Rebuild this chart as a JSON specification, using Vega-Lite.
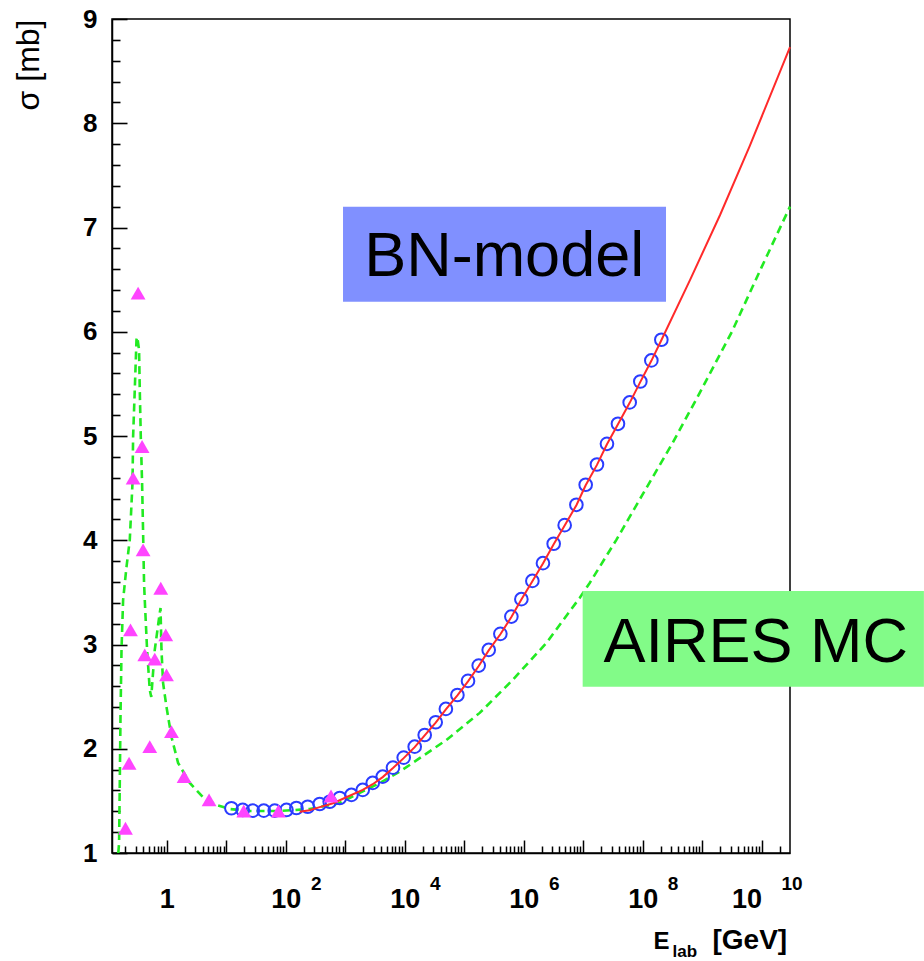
{
  "$schema": "https://vega.github.io/schema/vega-lite/v6.json",
  "width": 678,
  "height": 834,
  "autosize": {"type": "none"},
  "padding": {"left": 112, "top": 19, "right": 134, "bottom": 108},
  "config": {
    "font": "Liberation Sans",
    "view": {"stroke": "black", "strokeWidth": 1.5},
    "axis": {"grid": false, "domainColor": "black", "tickColor": "black", "labelColor": "black", "titleColor": "black", "labelFont": "Liberation Sans", "titleFont": "Liberation Sans"}
  },
  "datasets": {
    "circles": [
      {"E": 12.2, "sigma": 1.429}, {"E": 18.9, "sigma": 1.413}, {"E": 27.9, "sigma": 1.406}, {"E": 42.7, "sigma": 1.406},
      {"E": 65.3, "sigma": 1.406}, {"E": 102.8, "sigma": 1.413}, {"E": 151, "sigma": 1.432}, {"E": 234, "sigma": 1.444},
      {"E": 372, "sigma": 1.47}, {"E": 548, "sigma": 1.492}, {"E": 809, "sigma": 1.528}, {"E": 1271, "sigma": 1.557},
      {"E": 1968, "sigma": 1.605}, {"E": 2897, "sigma": 1.672}, {"E": 4266, "sigma": 1.732}, {"E": 6353, "sigma": 1.819},
      {"E": 9616, "sigma": 1.915}, {"E": 14720, "sigma": 2.02}, {"E": 21680, "sigma": 2.132}, {"E": 33190, "sigma": 2.254},
      {"E": 49200, "sigma": 2.382}, {"E": 76910, "sigma": 2.516}, {"E": 115900, "sigma": 2.651}, {"E": 175400, "sigma": 2.798},
      {"E": 258200, "sigma": 2.948}, {"E": 405500, "sigma": 3.102}, {"E": 620900, "sigma": 3.268}, {"E": 914100, "sigma": 3.435},
      {"E": 1.4e6, "sigma": 3.61}, {"E": 2.109e6, "sigma": 3.78}, {"E": 3.192e6, "sigma": 3.966}, {"E": 4.887e6, "sigma": 4.145},
      {"E": 7.691e6, "sigma": 4.34}, {"E": 1.102e7, "sigma": 4.532}, {"E": 1.706e7, "sigma": 4.727}, {"E": 2.512e7, "sigma": 4.925},
      {"E": 3.846e7, "sigma": 5.117}, {"E": 6.053e7, "sigma": 5.322}, {"E": 9.141e7, "sigma": 5.523}, {"E": 1.4e8, "sigma": 5.725},
      {"E": 2.061e8, "sigma": 5.923}
    ],
    "bn": [
      {"E": 172, "sigma": 1.396}, {"E": 251, "sigma": 1.41}, {"E": 372, "sigma": 1.44}, {"E": 624, "sigma": 1.477},
      {"E": 1000, "sigma": 1.53}, {"E": 1968, "sigma": 1.605}, {"E": 2897, "sigma": 1.66}, {"E": 4266, "sigma": 1.728},
      {"E": 6353, "sigma": 1.815}, {"E": 9616, "sigma": 1.91}, {"E": 14720, "sigma": 2.015}, {"E": 21680, "sigma": 2.128},
      {"E": 33190, "sigma": 2.25}, {"E": 49200, "sigma": 2.378}, {"E": 76910, "sigma": 2.512}, {"E": 115900, "sigma": 2.647},
      {"E": 175400, "sigma": 2.794}, {"E": 258200, "sigma": 2.944}, {"E": 405500, "sigma": 3.098}, {"E": 620900, "sigma": 3.264},
      {"E": 914100, "sigma": 3.431}, {"E": 1.4e6, "sigma": 3.606}, {"E": 2.109e6, "sigma": 3.776}, {"E": 3.192e6, "sigma": 3.962},
      {"E": 4.887e6, "sigma": 4.141}, {"E": 7.691e6, "sigma": 4.336}, {"E": 1.102e7, "sigma": 4.528}, {"E": 1.706e7, "sigma": 4.723},
      {"E": 2.512e7, "sigma": 4.921}, {"E": 3.846e7, "sigma": 5.113}, {"E": 6.053e7, "sigma": 5.318}, {"E": 9.141e7, "sigma": 5.519},
      {"E": 1.4e8, "sigma": 5.721}, {"E": 2.061e8, "sigma": 5.919}, {"E": 6.3e8, "sigma": 6.5}, {"E": 2e9, "sigma": 7.12},
      {"E": 6.3e9, "sigma": 7.78}, {"E": 3e10, "sigma": 8.73}
    ],
    "aires": [
      {"E": 0.1531, "sigma": 1.0}, {"E": 0.1578, "sigma": 1.096}, {"E": 0.1622, "sigma": 1.672}, {"E": 0.1667, "sigma": 2.305},
      {"E": 0.1734, "sigma": 2.948}, {"E": 0.1845, "sigma": 3.428}, {"E": 0.2104, "sigma": 3.745}, {"E": 0.2388, "sigma": 4.004},
      {"E": 0.2655, "sigma": 4.551}, {"E": 0.2716, "sigma": 4.992}, {"E": 0.2897, "sigma": 5.443}, {"E": 0.3097, "sigma": 5.923},
      {"E": 0.3192, "sigma": 5.95}, {"E": 0.342, "sigma": 5.827}, {"E": 0.3516, "sigma": 5.443}, {"E": 0.3656, "sigma": 4.992},
      {"E": 0.3846, "sigma": 4.551}, {"E": 0.4, "sigma": 4.071}, {"E": 0.415, "sigma": 3.591}, {"E": 0.4266, "sigma": 3.428},
      {"E": 0.4667, "sigma": 2.948}, {"E": 0.5176, "sigma": 2.564}, {"E": 0.5483, "sigma": 2.497}, {"E": 0.6281, "sigma": 2.948},
      {"E": 0.7621, "sigma": 3.303}, {"E": 0.785, "sigma": 3.35}, {"E": 0.8147, "sigma": 2.948}, {"E": 0.867, "sigma": 2.631},
      {"E": 0.9886, "sigma": 2.401}, {"E": 1.2, "sigma": 2.113}, {"E": 1.549, "sigma": 1.864}, {"E": 2.438, "sigma": 1.672},
      {"E": 4.027, "sigma": 1.537}, {"E": 6.839, "sigma": 1.461}, {"E": 11.46, "sigma": 1.422}, {"E": 24.83, "sigma": 1.403},
      {"E": 79.25, "sigma": 1.403}, {"E": 252.9, "sigma": 1.422}, {"E": 809.1, "sigma": 1.48}, {"E": 3802, "sigma": 1.672},
      {"E": 8241, "sigma": 1.78}, {"E": 13610, "sigma": 1.864}, {"E": 50230, "sigma": 2.084}, {"E": 182400, "sigma": 2.344},
      {"E": 653100, "sigma": 2.66}, {"E": 2.41e6, "sigma": 3.015}, {"E": 8.73e6, "sigma": 3.447}, {"E": 1.288e7, "sigma": 3.59},
      {"E": 3.614e7, "sigma": 4.004}, {"E": 1e8, "sigma": 4.44}, {"E": 3.162e8, "sigma": 4.93}, {"E": 8.395e8, "sigma": 5.376},
      {"E": 3.162e9, "sigma": 6.0}, {"E": 1e10, "sigma": 6.62}, {"E": 3e10, "sigma": 7.2}
    ],
    "triangles": [
      {"E": 0.2023, "sigma": 1.237}, {"E": 0.2323, "sigma": 1.861}, {"E": 0.2455, "sigma": 3.14}, {"E": 0.2716, "sigma": 4.596},
      {"E": 0.3296, "sigma": 6.371}, {"E": 0.3846, "sigma": 4.899}, {"E": 0.4, "sigma": 3.908}, {"E": 0.4266, "sigma": 2.9},
      {"E": 0.5176, "sigma": 2.02}, {"E": 0.6281, "sigma": 2.859}, {"E": 0.7925, "sigma": 3.54}, {"E": 0.9616, "sigma": 3.092},
      {"E": 0.9886, "sigma": 2.708}, {"E": 1.2, "sigma": 2.164}, {"E": 1.954, "sigma": 1.732}, {"E": 5.14, "sigma": 1.509},
      {"E": 19.68, "sigma": 1.403}, {"E": 75.34, "sigma": 1.403}, {"E": 576.8, "sigma": 1.547}
    ],
    "boxes": [
      {"label": "BN-model", "E1": 918, "E2": 2.47e8, "s1": 6.288, "s2": 7.199, "Etext": 4.7e5, "stext": 6.531},
      {"label": "AIRES MC", "E1": 9.81e6, "E2": 5.35e12, "s1": 2.595, "s2": 3.513, "Etext": 7.96e9, "stext": 2.836}
    ]
  },
  "resolve": {"axis": {"x": "independent", "y": "independent"}},
  "layer": [
    {
      "data": {"name": "aires"},
      "mark": {"type": "line", "color": "#22ea22", "strokeWidth": 2.6, "strokeDash": [8, 5]},
      "encoding": {
        "x": {
          "field": "E", "type": "quantitative",
          "scale": {"type": "log", "domain": [0.12, 3e10], "nice": false},
          "axis": {
            "orient": "bottom",
            "values": [0.2,0.3,0.4,0.5,0.6,0.7,0.8,0.9,1,2,3,4,5,6,7,8,9,10,20,30,40,50,60,70,80,90,100,200,300,400,500,600,700,800,900,1000,2000,3000,4000,5000,6000,7000,8000,9000,1e4,2e4,3e4,4e4,5e4,6e4,7e4,8e4,9e4,1e5,2e5,3e5,4e5,5e5,6e5,7e5,8e5,9e5,1e6,2e6,3e6,4e6,5e6,6e6,7e6,8e6,9e6,1e7,2e7,3e7,4e7,5e7,6e7,7e7,8e7,9e7,1e8,2e8,3e8,4e8,5e8,6e8,7e8,8e8,9e8,1e9,2e9,3e9,4e9,5e9,6e9,7e9,8e9,9e9,1e10,2e10],
            "labelExpr": "abs(log(datum.value)/LN10 - round(log(datum.value)/LN10)) < 0.001 && round(log(datum.value)/LN10) % 2 == 0 ? (round(log(datum.value)/LN10) == 0 ? '1' : '10') : ''",
            "tickSize": {"condition": {"test": "abs(log(datum.value)/LN10 - round(log(datum.value)/LN10)) < 0.001", "value": -13}, "value": -7},
            "tickWidth": 1.5,
            "domainWidth": 1.5,
            "labelFontSize": 27,
            "labelFontWeight": "bold",
            "labelBaseline": "alphabetic",
            "labelAlign": {"condition": {"test": "datum.value > 5e9", "value": "right"}, "value": "center"},
            "labelPadding": 67,
            "labelOverlap": false,
            "labelFlush": false,
            "title": "E",
            "titleFontSize": 24,
            "titleFontWeight": "bold",
            "titleX": 541,
            "titleY": 95,
            "titleAlign": "left",
            "titleBaseline": "alphabetic"
          }
        },
        "y": {
          "field": "sigma", "type": "quantitative",
          "scale": {"domain": [1, 9], "nice": false, "zero": false},
          "axis": {
            "orient": "left",
            "values": [1,1.2,1.4,1.6,1.8,2,2.2,2.4,2.6,2.8,3,3.2,3.4,3.6,3.8,4,4.2,4.4,4.6,4.8,5,5.2,5.4,5.6,5.8,6,6.2,6.4,6.6,6.8,7,7.2,7.4,7.6,7.8,8,8.2,8.4,8.6,8.8,9],
            "labelExpr": "abs(datum.value - round(datum.value)) < 0.001 ? format(datum.value, 'd') : ''",
            "tickSize": {"condition": {"test": "abs(datum.value - round(datum.value)) < 0.001", "value": -15}, "value": -8},
            "tickWidth": 1.6,
            "tickColor": "#000000",
            "tickOpacity": 1,
            "domainWidth": 1.5,
            "labelFontSize": 26,
            "labelFontWeight": "bold",
            "labelBaseline": "middle",
            "labelAlign": "right",
            "labelPadding": 30,
            "labelOverlap": false,
            "labelFlush": false,
            "title": "σ  [mb]",
            "titleFontSize": 32,
            "titleFontWeight": "normal",
            "titleAngle": -90,
            "titleX": -84,
            "titleY": 0,
            "titleAlign": "right",
            "titleBaseline": "middle"
          }
        }
      }
    },
    {
      "data": {"name": "circles"},
      "mark": {"type": "point", "shape": "circle", "filled": false, "color": "#2a3cff", "strokeWidth": 2, "size": 160, "opacity": 1},
      "encoding": {
        "x": {"field": "E", "type": "quantitative", "axis": null},
        "y": {"field": "sigma", "type": "quantitative", "axis": null}
      }
    },
    {
      "data": {"name": "bn"},
      "mark": {"type": "line", "color": "#ff2a2a", "strokeWidth": 2},
      "encoding": {
        "x": {
          "field": "E", "type": "quantitative",
          "axis": {"orient": "bottom", "labels": false, "ticks": false, "domain": false, "grid": false,
            "title": "[GeV]", "titleFontSize": 28, "titleFontWeight": "bold", "titleX": 600, "titleY": 95, "titleAlign": "left", "titleBaseline": "alphabetic"}
        },
        "y": {"field": "sigma", "type": "quantitative", "axis": null}
      }
    },
    {
      "data": {"name": "triangles"},
      "mark": {"type": "point", "shape": "triangle-up", "filled": true, "color": "#ff44ff", "size": 220, "opacity": 1},
      "encoding": {
        "x": {
          "field": "E", "type": "quantitative",
          "axis": {"orient": "bottom", "values": [100, 1e4, 1e6, 1e8, 1e10],
            "labelExpr": "format(round(log(datum.value)/LN10), 'd')",
            "ticks": false, "domain": false, "grid": false,
            "labelFontSize": 19, "labelFontWeight": "bold", "labelAlign": "center", "labelOffset": 30,
            "labelBaseline": "alphabetic", "labelPadding": 36, "labelOverlap": false, "labelFlush": false,
            "title": "lab", "titleFontSize": 17, "titleFontWeight": "bold", "titleX": 560, "titleY": 103, "titleAlign": "left", "titleBaseline": "alphabetic"}
        },
        "y": {"field": "sigma", "type": "quantitative", "axis": null}
      }
    },
    {
      "data": {"name": "boxes"},
      "mark": {"type": "rect"},
      "encoding": {
        "x": {"field": "E1", "type": "quantitative", "axis": null},
        "x2": {"field": "E2"},
        "y": {"field": "s1", "type": "quantitative", "axis": null},
        "y2": {"field": "s2"},
        "color": {"field": "label", "type": "nominal", "scale": {"domain": ["BN-model", "AIRES MC"], "range": ["#8090ff", "#82fb88"]}, "legend": null}
      }
    },
    {
      "data": {"name": "boxes"},
      "mark": {"type": "text", "fontSize": 63, "font": "Liberation Sans", "color": "black", "align": "center", "baseline": "alphabetic"},
      "encoding": {
        "x": {"field": "Etext", "type": "quantitative", "axis": null},
        "y": {"field": "stext", "type": "quantitative", "axis": null},
        "text": {"field": "label"}
      }
    }
  ]
}
